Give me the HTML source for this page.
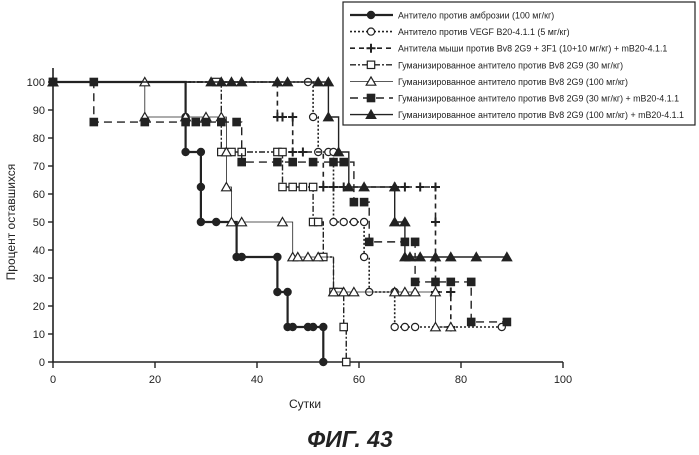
<!DOCTYPE html>
<html><head><meta charset="utf-8"><style>
body{margin:0;background:#fff;width:699px;height:455px;overflow:hidden;font-family:"Liberation Sans",sans-serif}
svg{display:block}
</style></head><body>
<svg id="c" width="699" height="455" xmlns="http://www.w3.org/2000/svg"></svg>
<script>
const xTicks=[0,20,40,60,80,100];
const yTicks=[0,10,20,30,40,50,60,70,80,90,100];
const seriesNames=["Антитело против амброзии (100 мг/кг)","Антитело против VEGF B20-4.1.1 (5 мг/кг)","Антитела мыши против Bv8 2G9 + 3F1 (10+10 мг/кг) + mB20-4.1.1","Гуманизированное антитело против Bv8 2G9 (30 мг/кг)","Гуманизированное антитело против Bv8 2G9 (100 мг/кг)","Гуманизированное антитело против Bv8 2G9 (30 мг/кг) + mB20-4.1.1","Гуманизированное антитело против Bv8 2G9 (100 мг/кг) + mB20-4.1.1"];
const s1T=[0,26,26,29,29,29,32,36,37,44,44,46,46,47,50,51,53,53];
const s1V=[100,87.5,75,75,62.5,50,50,37.5,37.5,37.5,25,25,12.5,12.5,12.5,12.5,12.5,0];
const s2T=[0,50,51,52,54,55,55,57,59,61,61,62,67,67,69,71,88];
const s2V=[100,100,87.5,75,75,75,50,50,50,50,37.5,25,25,12.5,12.5,12.5,12.5];
const s3T=[0,44,45,47,47,49,53,55,57,67,69,72,75,75,75,78,78];
const s3V=[100,87.5,87.5,87.5,75,75,62.5,62.5,62.5,62.5,62.5,62.5,62.5,50,25,25,12.5];
const s4T=[0,32,33,35,37,44,45,45,47,49,51,51,52,53,55,56,57,57.5];
const s4V=[100,100,75,75,75,75,75,62.5,62.5,62.5,62.5,50,50,37.5,25,25,12.5,0];
const s5T=[0,18,18,26,30,33,34,34,35,37,45,47,48,50,52,55,57,59,67,69,71,75,75,78];
const s5V=[100,100,87.5,87.5,87.5,87.5,75,62.5,50,50,50,37.5,37.5,37.5,37.5,25,25,25,25,25,25,25,12.5,12.5];
const s6T=[0,8,8,18,26,28,30,33,36,37,44,47,51,55,57,59,61,62,69,71,71,75,78,82,82,89];
const s6V=[100,100,85.7,85.7,85.7,85.7,85.7,85.7,85.7,71.4,71.4,71.4,71.4,71.4,71.4,57.1,57.1,42.9,42.9,42.9,28.6,28.6,28.6,28.6,14.3,14.3];
const s7T=[0,31,33,35,37,44,46,52,54,54,56,58,61,67,67,69,69,70,72,75,78,83,89];
const s7V=[100,100,100,100,100,100,100,100,100,87.5,75,62.5,62.5,62.5,50,50,37.5,37.5,37.5,37.5,37.5,37.5,37.5];
const allT=[s1T,s2T,s3T,s4T,s5T,s6T,s7T], allV=[s1V,s2V,s3V,s4V,s5V,s6V,s7V];
const markers=["circle-f","circle-o","plus","square-o","tri-o","square-f","tri-f"];
const dashes=["","2,2","5,4","6,2,2,2","","8,5",""];
const widths=[2.2,1.6,1.6,1.4,0.8,1.4,1.4];
const X0=53,X1=563,Y0=362,Y1=82;
const xs=d=>X0+(X1-X0)*d/100, ys=v=>Y0-(Y0-Y1)*v/100;
const NS="http://www.w3.org/2000/svg", svg=document.getElementById('c');
function mk(t,a,p){const e=document.createElementNS(NS,t);for(const k in a)e.setAttribute(k,a[k]);(p||svg).appendChild(e);return e;}
function marker(type,x,y,g){
 const r=3.6;
 if(type==="circle-f"||type==="circle-o")return mk('circle',{cx:x,cy:y,r:r,fill:type==="circle-f"?"#222":"#fff",stroke:"#222","stroke-width":1.2},g);
 if(type==="square-f"||type==="square-o")return mk('rect',{x:x-3.7,y:y-3.7,width:7.4,height:7.4,fill:type==="square-f"?"#222":"#fff",stroke:"#222","stroke-width":1.2},g);
 if(type==="tri-f"||type==="tri-o")return mk('polygon',{points:`${x},${y-4.5} ${x+4.8},${y+3.8} ${x-4.8},${y+3.8}`,fill:type==="tri-f"?"#222":"#fff",stroke:"#222","stroke-width":1.2},g);
 return mk('path',{d:`M${x-4.5},${y}H${x+4.5}M${x},${y-4.5}V${y+4.5}`,stroke:"#222","stroke-width":2},g);
}
const ax=mk('g',{});
mk('line',{x1:X0,y1:68,x2:X0,y2:Y0,stroke:"#222","stroke-width":1.6},ax);
mk('line',{x1:X0,y1:Y0,x2:X1,y2:Y0,stroke:"#222","stroke-width":1.6},ax);
yTicks.forEach(v=>{mk('line',{x1:X0-5,y1:ys(v),x2:X0,y2:ys(v),stroke:"#222","stroke-width":1.4},ax);
 const t=mk('text',{x:X0-8,y:ys(v)+4,"text-anchor":"end","font-size":11,fill:"#222"},ax);t.textContent=v;
 });
xTicks.forEach(v=>{mk('line',{x1:xs(v),y1:Y0,x2:xs(v),y2:Y0+6,stroke:"#222","stroke-width":1.4},ax);
 const t=mk('text',{x:xs(v),y:Y0+21,"text-anchor":"middle","font-size":11,fill:"#222"},ax);t.textContent=v;
 });
let t=mk('text',{x:305,y:408,"text-anchor":"middle","font-size":12,fill:"#222"});t.textContent="Сутки";

t=mk('text',{x:0,y:0,transform:"translate(15,222) rotate(-90)","text-anchor":"middle","font-size":12,fill:"#222"});t.textContent="Процент оставшихся";

t=mk('text',{x:350,y:447,"text-anchor":"middle","font-size":23,"font-weight":"bold","font-style":"italic",fill:"#222"});t.textContent="ФИГ. 43";

allT.forEach((T,i)=>{
 const g=mk('g',{});
 let d=`M${xs(T[0])},${ys(allV[i][0])}`;
 for(let k=1;k<T.length;k++){d+=`H${xs(T[k])}V${ys(allV[i][k])}`;}
 const p=mk('path',{d:d,fill:"none",stroke:"#222","stroke-width":widths[i],"stroke-dasharray":dashes[i]},g);
 
 T.forEach((tt,k)=>{const m=marker(markers[i],xs(tt),ys(allV[i][k]),g);
  });
});
const lg=mk('g',{});
mk('rect',{x:343,y:2,width:352,height:123,fill:"#fff",stroke:"#222","stroke-width":1.2},lg);
seriesNames.forEach((n,i)=>{
 const y=15+i*16.6;
 const e=mk('g',{},lg);
 mk('line',{x1:350,y1:y,x2:393,y2:y,stroke:"#222","stroke-width":widths[i],"stroke-dasharray":dashes[i]},e);
 marker(markers[i],371,y,e);
 const tx=mk('text',{x:398,y:y+3.5,"font-size":8.9,fill:"#222"},e);tx.textContent=n;
});
</script>
</body></html>
